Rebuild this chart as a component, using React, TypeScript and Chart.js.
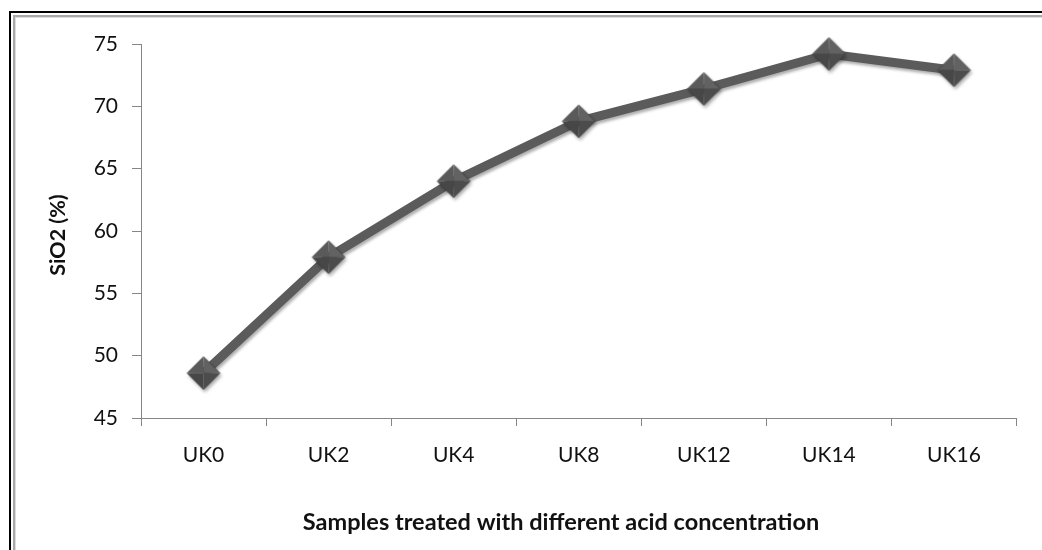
import { useEffect, useRef } from "react";
import { Chart, registerables } from "chart.js";

Chart.register(...registerables);

// SiO2 content of each treated sample
const samples = ["UK0", "UK2", "UK4", "UK8", "UK12", "UK14", "UK16"];
const sio2Percent = [48.6, 57.9, 64.0, 68.8, 71.4, 74.2, 72.9];
const yRange = [45, 75];
const yStep = 5;
const xAxisTitle = "Samples treated with different acid concentration";
const yAxisTitle = "SiO2 (%)";

const FONT = "Lato, 'Open Sans', sans-serif";
const AXIS_GREY = "#868686";
const LINE_GREY = "#5b5b5b";

// Bevelled diamond marker, drawn once to an offscreen canvas
function makeDiamond(r: number): HTMLCanvasElement {
  const size = Math.ceil(r * 2) + 4;
  const c = document.createElement("canvas");
  c.width = size;
  c.height = size;
  const g = c.getContext("2d")!;
  const cx = size / 2;
  const cy = size / 2;
  const top: [number, number] = [cx, cy - r];
  const right: [number, number] = [cx + r, cy];
  const bottom: [number, number] = [cx, cy + r];
  const left: [number, number] = [cx - r, cy];
  const faces: [[number, number], [number, number], string][] = [
    [left, top, "#5a5a5a"],
    [top, right, "#626262"],
    [right, bottom, "#4c4c4c"],
    [bottom, left, "#474747"],
  ];
  for (const [a, b, col] of faces) {
    g.beginPath();
    g.moveTo(cx, cy);
    g.lineTo(a[0], a[1]);
    g.lineTo(b[0], b[1]);
    g.closePath();
    g.fillStyle = col;
    g.fill();
  }
  g.beginPath();
  g.moveTo(top[0], top[1]);
  g.lineTo(right[0], right[1]);
  g.lineTo(bottom[0], bottom[1]);
  g.lineTo(left[0], left[1]);
  g.closePath();
  g.strokeStyle = "rgba(60,60,60,0.8)";
  g.lineWidth = 0.8;
  g.stroke();
  return c;
}

// Page background and the double frame around the figure
const framePlugin = {
  id: "frame",
  beforeDraw(chart: any) {
    const ctx = chart.ctx as CanvasRenderingContext2D;
    const w = chart.width;
    const h = chart.height;
    ctx.save();
    ctx.fillStyle = "#ffffff";
    ctx.fillRect(0, 0, w, h);
    ctx.fillStyle = "#000000";
    ctx.fillRect(9, 11, w - 9, 2);
    ctx.fillRect(9, 11, 2, h - 11);
    ctx.fillStyle = "#a9a9a9";
    ctx.fillRect(13, 15, w - 13, 2);
    ctx.fillRect(13, 15, 2, h - 15);
    ctx.fillStyle = "#dcdcdc";
    ctx.fillRect(15, 17, w - 15, 1);
    ctx.fillRect(15, 17, 1, h - 17);
    ctx.restore();
  },
};

// Soft drop shadow under the line and markers
const shadowPlugin = {
  id: "softShadow",
  beforeDatasetsDraw(chart: any) {
    const ctx = chart.ctx as CanvasRenderingContext2D;
    ctx.save();
    ctx.shadowColor = "rgba(0,0,0,0.32)";
    ctx.shadowBlur = 3;
    ctx.shadowOffsetX = 1.5;
    ctx.shadowOffsetY = 2.5;
  },
  afterDatasetsDraw(chart: any) {
    chart.ctx.restore();
  },
};

// Axis titles
const titlesPlugin = {
  id: "axisTitles",
  afterDraw(chart: any) {
    const ctx = chart.ctx as CanvasRenderingContext2D;
    ctx.save();
    ctx.fillStyle = "#111111";
    ctx.font = `bold 23.5px ${FONT}`;
    ctx.textAlign = "center";
    ctx.textBaseline = "middle";
    ctx.fillText(xAxisTitle, 561, 522);
    ctx.translate(58, 235);
    ctx.rotate(-Math.PI / 2);
    ctx.font = `bold 21.5px ${FONT}`;
    ctx.fillText(yAxisTitle, 0, 0);
    ctx.restore();
  },
};

export default function App() {
  const canvasRef = useRef<HTMLCanvasElement | null>(null);

  useEffect(() => {
    const canvas = canvasRef.current;
    if (!canvas) return;
    const diamond = makeDiamond(16.5);

    const chart = new Chart(canvas, {
      type: "line",
      data: {
        labels: samples,
        datasets: [
          {
            data: sio2Percent,
            borderColor: LINE_GREY,
            borderWidth: 9,
            backgroundColor: LINE_GREY,
            pointStyle: diamond as any,
            pointRadius: 16.5,
            pointHoverRadius: 16.5,
            tension: 0,
            clip: false as any,
          },
        ],
      },
      options: {
        responsive: false,
        animation: false,
        events: [],
        layout: { padding: { top: 44, right: 18, left: 0, bottom: 0 } },
        plugins: {
          legend: { display: false },
          tooltip: { enabled: false },
          title: { display: false },
        },
        scales: {
          x: {
            offset: true,
            grid: {
              offset: true,
              display: true,
              drawOnChartArea: false,
              drawTicks: true,
              tickLength: 8,
              color: AXIS_GREY,
            },
            border: { display: true, color: AXIS_GREY, width: 1 },
            ticks: {
              color: "#111111",
              font: { family: FONT, size: 21 },
              padding: 17,
              maxRotation: 0,
            },
            afterFit(scale: any) {
              scale.height = 132;
              scale.paddingLeft = 0;
              scale.paddingRight = 0;
            },
          },
          y: {
            min: yRange[0],
            max: yRange[1],
            grid: {
              display: true,
              drawOnChartArea: false,
              drawTicks: true,
              tickLength: 9,
              color: AXIS_GREY,
            },
            border: { display: true, color: AXIS_GREY, width: 1 },
            ticks: {
              stepSize: yStep,
              color: "#111111",
              font: { family: FONT, size: 21 },
              padding: 14,
            },
            afterFit(scale: any) {
              scale.width = 141;
              scale.paddingTop = 0;
              scale.paddingBottom = 0;
            },
          },
        },
      },
      plugins: [framePlugin, shadowPlugin, titlesPlugin],
    });

    return () => chart.destroy();
  }, []);

  return (
    <canvas
      ref={canvasRef}
      width={1042}
      height={550}
      style={{ position: "absolute", left: 0, top: 0, display: "block" }}
    />
  );
}
